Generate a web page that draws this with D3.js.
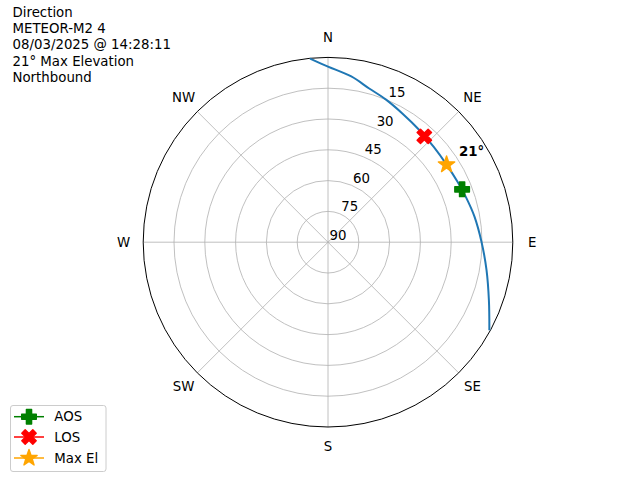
<!DOCTYPE html>
<html><head><meta charset="utf-8">
<script src="https://cdn.jsdelivr.net/npm/d3@7"></script>
<style>body{margin:0;background:#fff}svg{display:block;font-family:"DejaVu Sans",sans-serif}</style>
</head><body><svg id="c" width="640" height="480"></svg>
<script>
const titleLines = ["Direction","METEOR-M2 4","08/03/2025 @ 14:28:11","21° Max Elevation","Northbound"];
const dirLabels = ["N","NE","E","SE","S","SW","W","NW"];
const dirAngles = [0,45,90,135,180,225,270,315];
const ringTicks = [15,30,45,60,75,90];
const trackAz = [354.4,0,8,15,22,30,39.4,48,56.8,65,72,80,90,100,110,118.6];
const trackEl = [0.2,4.5,8.5,12.5,15,17.6,19.6,20.7,21,20.4,19.3,17.6,15.2,11.6,6.6,0.5];
const aos = {az:68.5, el:19.8};
const los = {az:42.3, el:20.3};
const maxEl = {az:56.8, el:21};
const maxLabel = "21°";
const legendNames = ["AOS","LOS","Max El"];

const svg = d3.select("#c");
const cx = 328, cy = 242.2, R = 184.8;
const r = d3.scaleLinear().domain([90,0]).range([0,R]);
const rad = a => a*Math.PI/180;
const px = (az,el) => cx + r(el)*Math.sin(rad(az));
const py = (az,el) => cy - r(el)*Math.cos(rad(az));

const g = svg.append("g");
// grid rings
ringTicks.filter(t=>t<90).forEach(t=>{
  g.append("circle").attr("cx",cx).attr("cy",cy).attr("r",r(t))
   .attr("fill","none").attr("stroke","#b0b0b0").attr("stroke-width",0.8);
});
// spokes
dirAngles.forEach(a=>{
  g.append("line").attr("x1",cx).attr("y1",cy)
   .attr("x2",px(a,0)).attr("y2",py(a,0))
   .attr("stroke","#b0b0b0").attr("stroke-width",0.8);
});
// outer
g.append("circle").attr("cx",cx).attr("cy",cy).attr("r",R)
 .attr("fill","none").attr("stroke","#000").attr("stroke-width",1);
// direction labels
dirLabels.forEach((l,i)=>{
  const a = dirAngles[i];
  g.append("text").attr("x",cx+(R+19.5)*Math.sin(rad(a))).attr("y",cy-(R+19.5)*Math.cos(rad(a)))
   .attr("text-anchor","middle").attr("dominant-baseline","central")
   .attr("font-size","13.33px").attr("fill","#000").text(l);
});
// radial tick labels
ringTicks.forEach(t=>{
  const x = px(22.5,t), y = py(22.5,t);
  g.append("text").attr("x",x+1.5).attr("y",y-2.5)
   .attr("font-size","13.33px").attr("fill","#000").text(t);
});
// track
const track = trackAz.map((a,i)=>({az:a, el:trackEl[i]}));
const line = d3.lineRadial().angle(d=>rad(d.az)).radius(d=>r(d.el)).curve(d3.curveCatmullRom);
g.append("path").attr("transform",`translate(${cx},${cy})`).attr("d",line(track))
 .attr("fill","none").attr("stroke","#1f77b4").attr("stroke-width",2);

// marker shapes
function plusPath(h,a){
  return `M${-a},${-h}L${a},${-h}L${a},${-a}L${h},${-a}L${h},${a}L${a},${a}L${a},${h}L${-a},${h}L${-a},${a}L${-h},${a}L${-h},${-a}L${-a},${-a}Z`;
}
function starPath(ro,ri){
  let p="";
  for(let i=0;i<10;i++){
    const rr = i%2===0?ro:ri, an = Math.PI*i/5;
    p += (i?"L":"M")+(rr*Math.sin(an)).toFixed(2)+","+(-rr*Math.cos(an)).toFixed(2);
  }
  return p+"Z";
}
const shapes = [
  {d:plusPath(7.3,2.6), rot:0, color:"green"},
  {d:plusPath(7.8,2.4), rot:45, color:"red"},
  {d:starPath(8.6,3.4), rot:0, color:"orange"}
];
function drawMarker(sel,x,y,s){
  sel.append("path").attr("d",s.d).attr("transform",`translate(${x},${y}) rotate(${s.rot})`)
   .attr("fill",s.color).attr("stroke",s.color).attr("stroke-width",1.4).attr("stroke-linejoin","round");
}
[aos,los,maxEl].forEach((m,i)=>drawMarker(g,px(m.az,m.el),py(m.az,m.el),shapes[i]));

g.append("text").attr("x",459).attr("y",156).attr("font-size","13.33px").attr("font-weight","bold")
 .attr("fill","#000").text(maxLabel);

// title
titleLines.forEach((t,i)=>{
  svg.append("text").attr("x",12.5).attr("y",17+i*16.2).attr("font-size","13.33px").attr("fill","#000").text(t);
});

// legend
const lg = svg.append("g");
lg.append("rect").attr("x",10.5).attr("y",405.5).attr("width",95.5).attr("height",66).attr("rx",2.5)
  .attr("fill","#fff").attr("fill-opacity",0.8).attr("stroke","#cccccc").attr("stroke-width",1);
const legY = [416.7,437,458];
legendNames.forEach((n,i)=>{
  lg.append("line").attr("x1",14).attr("x2",44).attr("y1",legY[i]).attr("y2",legY[i])
    .attr("stroke",shapes[i].color).attr("stroke-width",1.5);
  drawMarker(lg,29,legY[i],shapes[i]);
  lg.append("text").attr("x",54.3).attr("y",legY[i]).attr("dominant-baseline","central")
    .attr("font-size","13.33px").attr("fill","#000").text(n);
});
</script></body></html>
